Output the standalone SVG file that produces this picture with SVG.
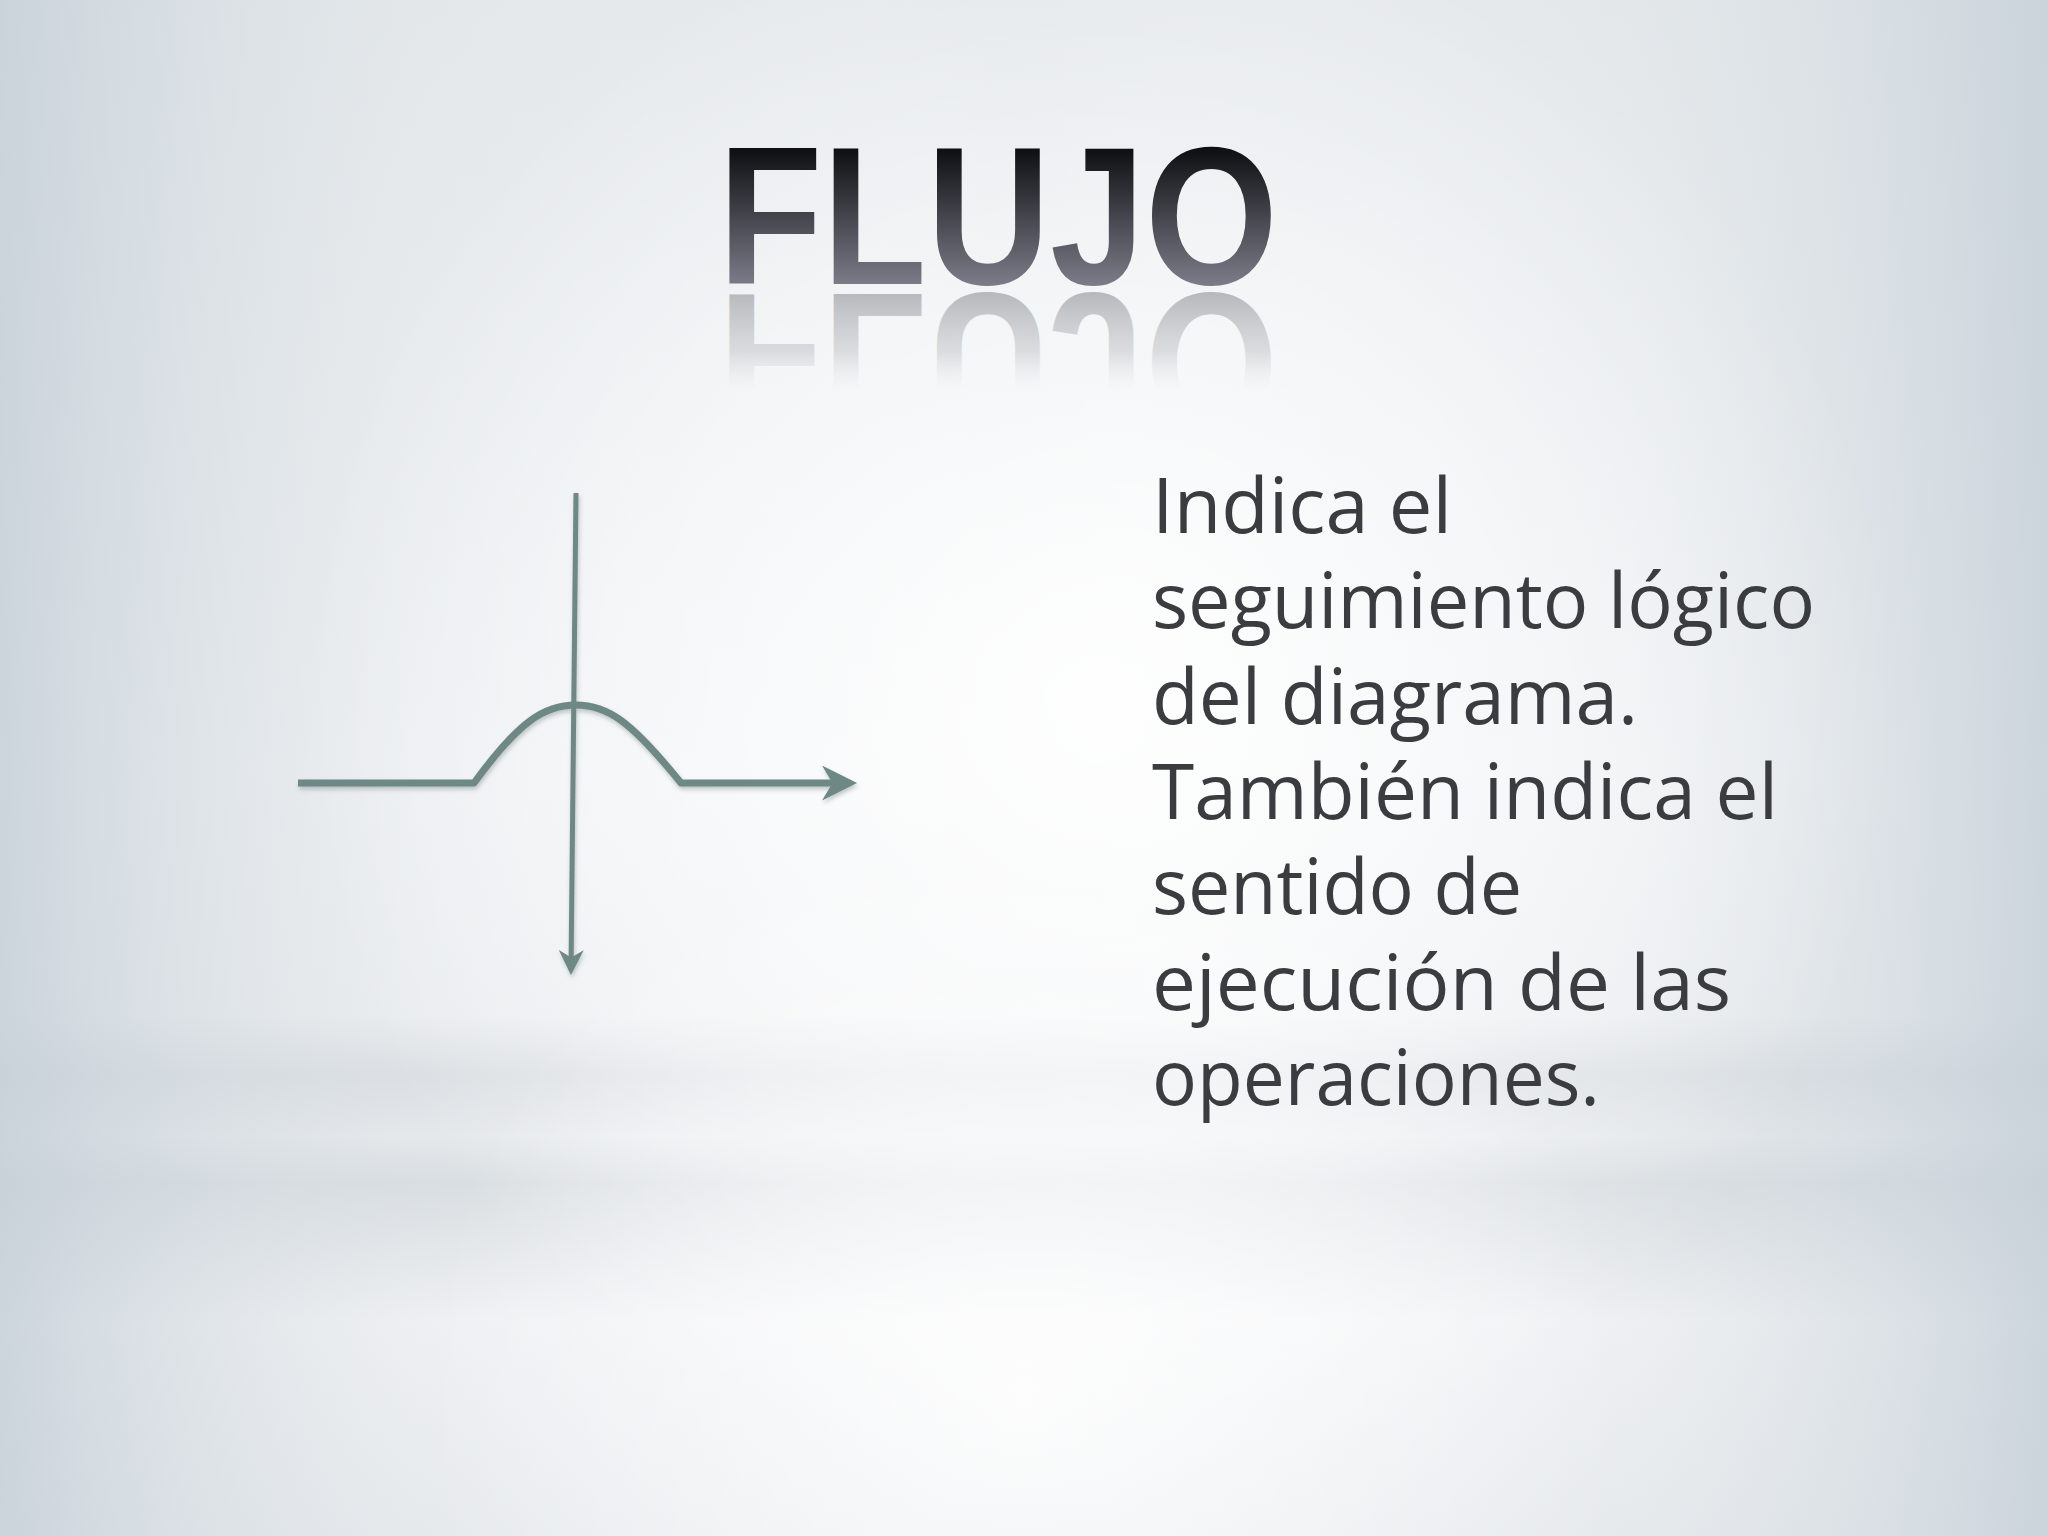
<svg xmlns="http://www.w3.org/2000/svg" width="2048" height="1536" viewBox="0 0 2048 1536">
  <defs>
    <linearGradient id="bgV" x1="0" y1="0" x2="0" y2="1">
      <stop offset="0" stop-color="#e4e8eb"/>
      <stop offset="0.5" stop-color="#f1f3f5"/>
      <stop offset="0.66" stop-color="#eef0f2"/>
      <stop offset="0.7" stop-color="#d9dde1"/>
      <stop offset="0.74" stop-color="#e6e9ec"/>
      <stop offset="0.77" stop-color="#d6dbdf"/>
      <stop offset="0.86" stop-color="#f3f4f6"/>
      <stop offset="1" stop-color="#e8ebee"/>
    </linearGradient>
    <linearGradient id="bgH" x1="0" y1="0" x2="1" y2="0">
      <stop offset="0" stop-color="#c6d0d8" stop-opacity="0.85"/>
      <stop offset="0.2" stop-color="#dfe4e8" stop-opacity="0.3"/>
      <stop offset="0.5" stop-color="#ffffff" stop-opacity="0"/>
      <stop offset="0.8" stop-color="#dfe4e8" stop-opacity="0.3"/>
      <stop offset="1" stop-color="#c6d0d8" stop-opacity="0.85"/>
    </linearGradient>
    <radialGradient id="glow" cx="1100" cy="700" r="800" gradientUnits="userSpaceOnUse">
      <stop offset="0" stop-color="#ffffff" stop-opacity="0.95"/>
      <stop offset="0.6" stop-color="#ffffff" stop-opacity="0.4"/>
      <stop offset="1" stop-color="#ffffff" stop-opacity="0"/>
    </radialGradient>
    <radialGradient id="glow2" cx="1024" cy="1400" r="600" gradientUnits="userSpaceOnUse">
      <stop offset="0" stop-color="#ffffff" stop-opacity="0.8"/>
      <stop offset="1" stop-color="#ffffff" stop-opacity="0"/>
    </radialGradient>
    <linearGradient id="titleGrad" x1="0" y1="146" x2="0" y2="285" gradientUnits="userSpaceOnUse">
      <stop offset="0" stop-color="#0c0d10"/>
      <stop offset="1" stop-color="#7b7c88"/>
    </linearGradient>
    <linearGradient id="reflGrad" x1="0" y1="-294" x2="0" y2="-390" gradientUnits="userSpaceOnUse">
      <stop offset="0" stop-color="#b4b6bb" stop-opacity="0.95"/>
      <stop offset="0.6" stop-color="#c8cacd" stop-opacity="0.6"/>
      <stop offset="1" stop-color="#e0e2e4" stop-opacity="0"/>
    </linearGradient>
    <marker id="arrow" viewBox="0 0 10 10" refX="8" refY="5" markerWidth="5" markerHeight="5" orient="auto" markerUnits="strokeWidth">
      <path d="M0,0 L10,5 L0,10 L3,5 Z" fill="#6e8886"/>
    </marker>
    <filter id="shadow" x="-10%" y="-10%" width="120%" height="120%">
      <feDropShadow dx="1" dy="3" stdDeviation="2" flood-color="#5a6a6a" flood-opacity="0.35"/>
    </filter>
  </defs>
  <style>
    .body { font-family: "Open Sans", "Lato", "Liberation Sans", sans-serif; font-size: 76px; fill: #3b3c40; }
    .title { font-family: "Liberation Sans", "DejaVu Sans", sans-serif; font-size: 196px; font-weight: bold; }
    .flow { fill: none; stroke: #6e8886; stroke-linecap: butt; stroke-linejoin: round; }
  </style>

  <g id="background">
    <rect x="0" y="0" width="2048" height="1536" fill="url(#bgV)"/>
    <rect x="0" y="0" width="2048" height="1536" fill="url(#bgH)"/>
    <rect x="0" y="0" width="2048" height="1536" fill="url(#glow)"/>
    <rect x="0" y="0" width="2048" height="1536" fill="url(#glow2)"/>
  </g>

  <g id="title">
    <text class="title" x="718" y="284" textLength="560" lengthAdjust="spacingAndGlyphs" fill="url(#titleGrad)">FLUJO</text>
    <text class="title" x="718" y="-294" textLength="560" lengthAdjust="spacingAndGlyphs" fill="url(#reflGrad)" transform="scale(1,-1)">FLUJO</text>
  </g>

  <g id="connectors" filter="url(#shadow)">
    <path class="flow" stroke-width="7" d="M298,783 L474,783 C520,720 545,705 576,705 C607,705 630,720 681,783 L850,783" marker-end="url(#arrow)"/>
    <path class="flow" stroke-width="5" d="M576,493 L571,970" marker-end="url(#arrow)"/>
  </g>

  <g id="description">
    <text class="body" x="1152" y="533" textLength="300" lengthAdjust="spacingAndGlyphs">Indica el</text>
    <text class="body" x="1152" y="628" textLength="663" lengthAdjust="spacingAndGlyphs">seguimiento lógico</text>
    <text class="body" x="1152" y="724" textLength="486" lengthAdjust="spacingAndGlyphs">del diagrama.</text>
    <text class="body" x="1152" y="819" textLength="626" lengthAdjust="spacingAndGlyphs">También indica el</text>
    <text class="body" x="1152" y="914" textLength="370" lengthAdjust="spacingAndGlyphs">sentido de</text>
    <text class="body" x="1152" y="1010" textLength="579" lengthAdjust="spacingAndGlyphs">ejecución de las</text>
    <text class="body" x="1152" y="1105" textLength="448" lengthAdjust="spacingAndGlyphs">operaciones.</text>
  </g>
</svg>
